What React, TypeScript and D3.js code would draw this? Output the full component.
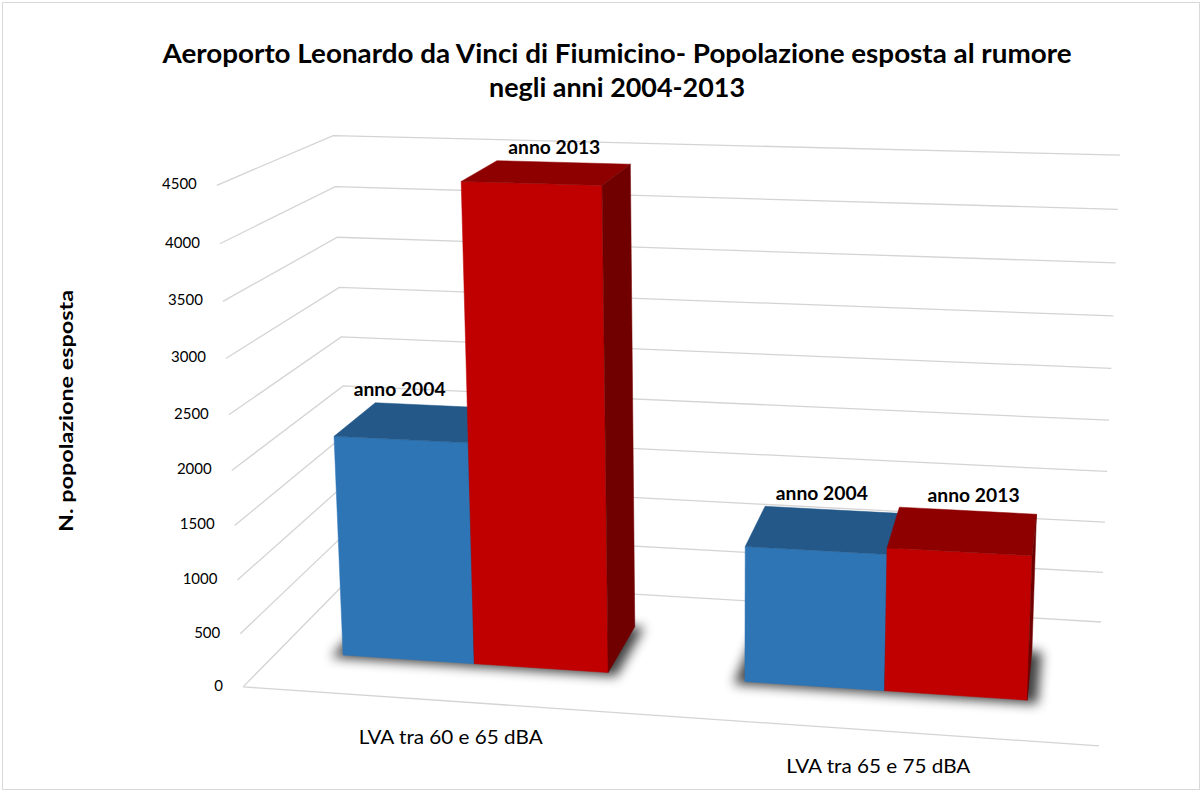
import React from "react";
import * as d3 from "d3";

// ---------- data ----------
const categories = ["LVA tra 60 e 65 dBA", "LVA tra 65 e 75 dBA"];
const seriesNames = ["anno 2004", "anno 2013"];
const values2004 = [2090, 1265];
const values2013 = [4440, 1325];
const yTicks = [0, 500, 1000, 1500, 2000, 2500, 3000, 3500, 4000, 4500];
const titleLines = [
  "Aeroporto Leonardo da Vinci di Fiumicino- Popolazione esposta al rumore",
  "negli anni 2004-2013",
];
const yAxisTitle = "N. popolazione esposta";

// ---------- layout ----------
const W = 1203;
const H = 792;
// screen position of the 3D plot box corners (world X 0..1, Y 0..1, Z 0..1 front->back)
const boxCorners: { w: [number, number, number]; s: [number, number] }[] = [
  { w: [0, 0, 0], s: [243, 688] },
  { w: [0, 1, 0], s: [217, 185] },
  { w: [0, 0, 1], s: [351, 576] },
  { w: [0, 1, 1], s: [333, 136] },
  { w: [1, 1, 1], s: [1120, 155] },
  { w: [1, 0, 1], s: [1101, 623] },
  { w: [1, 0, 0], s: [1099, 745] },
];
const barDepth: [number, number] = [0.3, 0.7];
// per-bar label nudges in pixels (category-major, series-minor)
const labelNudge: [number, number][] = [
  [-39, 2],
  [-9, 4],
  [-10, 2],
  [6, 3],
];
const seriesColors = [
  { front: "#2E75B6", top: "#235889", side: "#1B4A75" },
  { front: "#C00000", top: "#8E0000", side: "#700000" },
];
const FONT = "Lato, 'Open Sans', sans-serif";

function solveLinear(A: number[][], b: number[]): number[] {
  const n = b.length;
  const M = A.map((r, i) => [...r, b[i]]);
  for (let c = 0; c < n; c++) {
    let p = c;
    for (let r = c + 1; r < n; r++) if (Math.abs(M[r][c]) > Math.abs(M[p][c])) p = r;
    [M[c], M[p]] = [M[p], M[c]];
    for (let r = 0; r < n; r++) {
      if (r === c) continue;
      const f = M[r][c] / M[c][c];
      for (let k = c; k <= n; k++) M[r][k] -= f * M[c][k];
    }
  }
  return M.map((r, i) => r[n] / r[i]);
}

function fitCamera(pts: typeof boxCorners) {
  const rows: number[][] = [];
  const rhs: number[] = [];
  for (const { w: [X, Y, Z], s: [u, v] } of pts) {
    rows.push([X, Y, Z, 1, 0, 0, 0, 0, -u * X, -u * Y, -u * Z]);
    rhs.push(u);
    rows.push([0, 0, 0, 0, X, Y, Z, 1, -v * X, -v * Y, -v * Z]);
    rhs.push(v);
  }
  const n = 11;
  const N: number[][] = Array.from({ length: n }, () => new Array(n).fill(0));
  const r: number[] = new Array(n).fill(0);
  rows.forEach((row, k) => {
    for (let i = 0; i < n; i++) {
      r[i] += row[i] * rhs[k];
      for (let j = 0; j < n; j++) N[i][j] += row[i] * row[j];
    }
  });
  const p = solveLinear(N, r);
  return (X: number, Y: number, Z: number): [number, number] => {
    const w = p[8] * X + p[9] * Y + p[10] * Z + 1;
    return [
      (p[0] * X + p[1] * Y + p[2] * Z + p[3]) / w,
      (p[4] * X + p[5] * Y + p[6] * Z + p[7]) / w,
    ];
  };
}

export default function App() {
  const project = fitCamera(boxCorners);
  const xCat = d3.scaleBand<string>().domain(categories).range([0, 1]).paddingInner(1 / 3).paddingOuter(1 / 6);
  const xSer = d3.scaleBand<string>().domain(seriesNames).range([0, xCat.bandwidth()]);
  const yVal = d3.scaleLinear().domain([0, 4500]).range([0, 1]);
  const line = d3.line<[number, number]>();

  const seriesValues = [values2004, values2013];
  const bars = categories.flatMap((c, ci) =>
    seriesNames.map((s, si) => {
      const x0 = (xCat(c) ?? 0) + (xSer(s) ?? 0);
      const x1 = x0 + xSer.bandwidth();
      const h = yVal(seriesValues[si][ci]);
      const [z0, z1] = barDepth;
      const P = (X: number, Y: number, Z: number) => project(X, Y, Z);
      const faces = [
        { key: "front", fill: seriesColors[si].front, pts: [P(x0, 0, z0), P(x1, 0, z0), P(x1, h, z0), P(x0, h, z0)] },
        { key: "top", fill: seriesColors[si].top, pts: [P(x0, h, z0), P(x1, h, z0), P(x1, h, z1), P(x0, h, z1)] },
        { key: "right", fill: seriesColors[si].side, pts: [P(x1, 0, z0), P(x1, 0, z1), P(x1, h, z1), P(x1, h, z0)] },
        { key: "left", fill: seriesColors[si].side, pts: [P(x0, 0, z0), P(x0, h, z0), P(x0, h, z1), P(x0, 0, z1)] },
      ].filter((f) => (d3.polygonArea(f.pts) ?? 0) > 0);
      const e = 0.012;
      const shadow = [P(x0 - e, 0, z0 - e * 2), P(x1 + e, 0, z0 - e * 2), P(x1 + e, 0, z1), P(x0 - e, 0, z1)];
      const base = P((x0 + x1) / 2, h, z1);
      const nudge = labelNudge[ci * seriesNames.length + si];
      const labelPos: [number, number] = [base[0] + nudge[0], base[1] - 12 + nudge[1]];
      return { key: `${ci}-${si}`, faces, shadow, label: s, labelPos };
    })
  );

  return (
    <svg width={W} height={H} style={{ position: "absolute", left: 0, top: 0, background: "#fff" }} fontFamily={FONT}>
      <defs>
        <filter id="shadowBlur" x="-50%" y="-50%" width="200%" height="200%">
          <feGaussianBlur stdDeviation="6" />
        </filter>
      </defs>
      <rect x={2.5} y={2.5} width={W - 6} height={H - 5} fill="#fff" stroke="#D9D9D9" />

      {/* title */}
      <text x={617} y={63} textAnchor="middle" fontSize={27} fontWeight="bold" fill="#000" textLength={909} lengthAdjust="spacingAndGlyphs">
        {titleLines[0]}
      </text>
      <text x={617} y={97} textAnchor="middle" fontSize={27} fontWeight="bold" fill="#000" textLength={256} lengthAdjust="spacingAndGlyphs">
        {titleLines[1]}
      </text>

      {/* y axis title */}
      <text
        transform={`translate(73,411) rotate(-90)`}
        textAnchor="middle"
        fontSize={19}
        fontWeight="bold"
        fill="#000"
        textLength={242}
        lengthAdjust="spacingAndGlyphs"
      >
        {yAxisTitle}
      </text>

      {/* walls gridlines */}
      <g stroke="#D4D4D4" strokeWidth={1.3} fill="none">
        {yTicks.map((t) => {
          const y = yVal(t);
          return (
            <path key={`g${t}`} d={line([project(0, y, 0), project(0, y, 1), project(1, y, 1)]) ?? ""} />
          );
        })}
        <path d={line([project(0, 0, 0), project(1, 0, 0)]) ?? ""} />
      </g>

      {/* tick labels */}
      <g fontSize={15} fill="#000" textAnchor="end">
        {yTicks.map((t) => {
          const [u, v] = project(0, yVal(t), 0);
          return (
            <text key={`t${t}`} x={u - 20} y={v} dominantBaseline="middle">
              {t}
            </text>
          );
        })}
      </g>

      {/* shadows */}
      <g filter="url(#shadowBlur)" fill="#000" opacity={0.75}>
        {bars.map((b) => (
          <path key={`s${b.key}`} d={(line(b.shadow) ?? "") + "Z"} />
        ))}
      </g>

      {/* bars */}
      {bars.map((b) => (
        <g key={`b${b.key}`}>
          {b.faces.map((f) => (
            <path key={f.key} d={(line(f.pts) ?? "") + "Z"} fill={f.fill} stroke={f.fill} strokeWidth={0.5} />
          ))}
        </g>
      ))}

      {/* bar labels */}
      <g fontSize={18} fontWeight="bold" fill="#000" textAnchor="middle">
        {bars.map((b) => (
          <text key={`l${b.key}`} x={b.labelPos[0]} y={b.labelPos[1]} textLength={92} lengthAdjust="spacingAndGlyphs">
            {b.label}
          </text>
        ))}
      </g>

      {/* category labels */}
      <g fontSize={19} fill="#000" textAnchor="middle">
        {categories.map((c) => {
          const [u, v] = project((xCat(c) ?? 0) + xCat.bandwidth() / 2, 0, 0);
          return (
            <text key={c} x={u + 4} y={v + 43} textLength={184} lengthAdjust="spacingAndGlyphs">
              {c}
            </text>
          );
        })}
      </g>
    </svg>
  );
}
